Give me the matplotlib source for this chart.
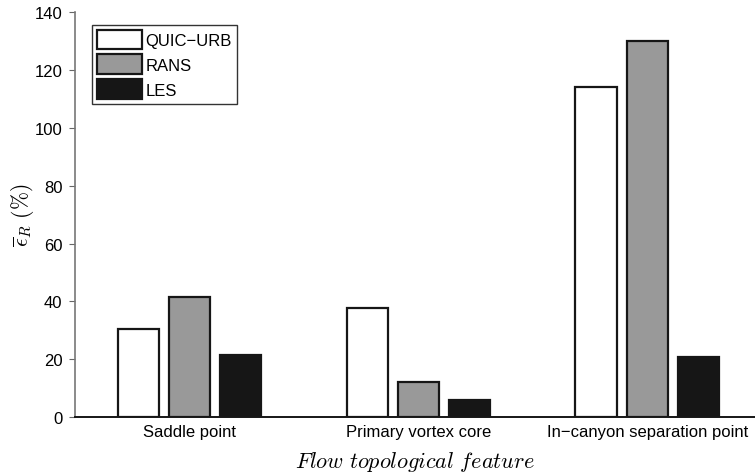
import numpy as np
import matplotlib
matplotlib.use("Agg")
import matplotlib.pyplot as plt

features = ["Saddle point", "Primary vortex core", "In\u2212canyon separation point"]
models = ["QUIC\u2212URB", "RANS", "LES"]
quic_urb = [30.4, 37.6, 114.2]
rans = [41.7, 12.2, 130.2]
les = [21.4, 5.9, 20.7]

plt.rcParams['font.family'] = ['Liberation Sans', 'DejaVu Sans']
plt.rcParams['mathtext.fontset'] = 'cm'

fig = plt.figure(figsize=(7.55, 4.77), dpi=100)
ax = fig.add_axes([0.0993, 0.1237, 0.9007, 0.848])

x = np.arange(1, len(features) + 1)
width = 0.182
step = 0.223
faces = ['white', '#999999', '#161616']
for i, (vals, fc, name) in enumerate(zip([quic_urb, rans, les], faces, models)):
    ax.bar(x + (i - 1) * step, vals, width, color=fc, edgecolor='#161616',
           linewidth=1.6, label=name, zorder=3)

ax.set_xlim(0.5, 3.47)
ax.set_ylim(0, 140)
ax.set_yticks(np.arange(0, 141, 20))
ax.set_xticks(x)
ax.set_xticklabels(features, fontsize=12)
ax.tick_params(axis='x', length=0, pad=5)
ax.tick_params(axis='y', direction='out', length=4, color='#666666', labelsize=12, pad=5)

for side in ['top', 'right']:
    ax.spines[side].set_visible(False)
ax.spines['left'].set_color('#777777')
ax.spines['left'].set_linewidth(1.2)
ax.spines['bottom'].set_color('#161616')
ax.spines['bottom'].set_linewidth(1.4)

ax.set_ylabel(r'$\overline{\epsilon}_R\ (\%)$', fontsize=15.5, labelpad=-1)
ax.set_xlabel(r'$Flow\ topological\ feature$', fontsize=16, labelpad=7)

leg = ax.legend(loc='upper left', bbox_to_anchor=(0.025, 0.97), fontsize=12,
                frameon=True, fancybox=False, handlelength=2.7, handleheight=1.45,
                handletextpad=0.2, labelspacing=0.3, borderpad=0.3,
                borderaxespad=0)
leg.get_frame().set_edgecolor('black')
leg.get_frame().set_linewidth(1.0)

fig.savefig("out.png", dpi=100)
